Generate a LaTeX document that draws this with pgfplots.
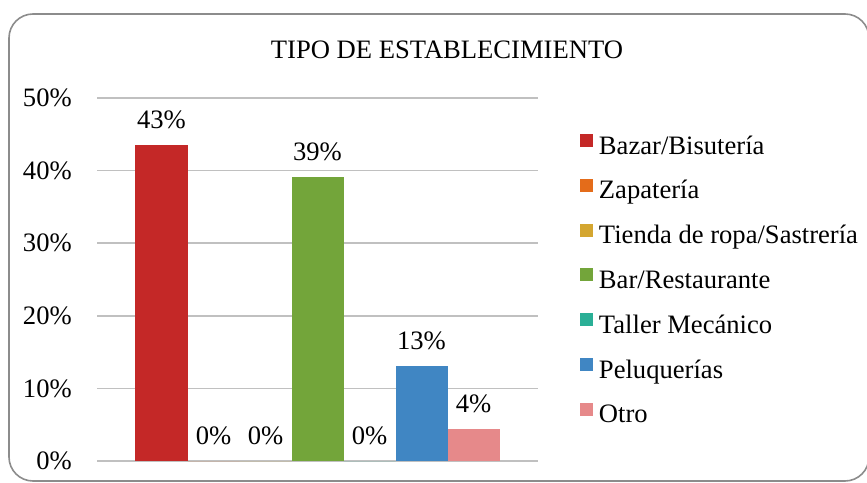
\documentclass[border=0pt]{standalone}
\usepackage{fontspec}
\setmainfont{Liberation Serif}
\usepackage{pgfplots}
\pgfplotsset{compat=1.18}
\definecolor{cBazar}{HTML}{C42827}
\definecolor{cZap}{HTML}{E46C1A}
\definecolor{cTienda}{HTML}{D4A630}
\definecolor{cBar}{HTML}{73A53A}
\definecolor{cTaller}{HTML}{2AAF96}
\definecolor{cPelu}{HTML}{4086C3}
\definecolor{cOtro}{HTML}{E6898A}
\definecolor{frameg}{HTML}{8C8C8C}
\definecolor{gridg}{HTML}{C0C0C0}
\begin{document}
\fontsize{13.3}{16}\selectfont
\begin{tikzpicture}
\useasboundingbox (0,0) rectangle (433.5pt,241pt);
\clip (0,0) rectangle (433.5pt,241pt);
\draw[frameg, line width=0.8pt, rounded corners=12pt] (4.5pt,0.5pt) rectangle (434.5pt,234pt);
\node[font=\fontsize{13.3}{16}\selectfont] at (223.5pt,216pt) {TIPO DE ESTABLECIMIENTO};
\begin{axis}[
  at={(48.5pt,10.5pt)}, anchor=south west,
  scale only axis, width=220.5pt, height=181.5pt,
  ybar=0pt, bar width=26pt,
  xmin=-1, xmax=1, ymin=0, ymax=50,
  xtick=\empty, ytick={0,10,20,30,40,50},
  yticklabel={\pgfmathprintnumber{\tick}\%},
  /pgf/number format/assume math mode=true,
  yticklabel style={font=\fontsize{13.3}{16}\selectfont, xshift=-8pt},
  axis line style={draw=none}, major tick length=0pt,
  ymajorgrids, major grid style={color=gridg, line width=0.8pt},
  nodes near coords={\pgfmathprintnumber[fixed,precision=0]{\pgfplotspointmeta}\%},
  nodes near coords style={font=\fontsize{13.3}{16}\selectfont, color=black, yshift=3.5pt},
  every axis plot/.append style={draw=none},
  legend image code/.code={\fill[#1] (0pt,0.5pt) rectangle (6.5pt,7pt);},
  legend style={at={(1.0952,0.9008)}, anchor=north west, draw=none, fill=none,
    inner sep=0pt, outer sep=0pt, row sep=9.4pt,
    nodes={inner sep=0pt, text height=9pt, text depth=3pt, font=\fontsize{13.3}{16}\selectfont},
    /tikz/every odd column/.append style={column sep=3pt}},
  legend cell align=left,
  clip=false,
]
\addplot[fill=cBazar] coordinates {(0,43.48)};
\addplot[fill=cZap] coordinates {(0,0)};
\addplot[fill=cTienda] coordinates {(0,0)};
\addplot[fill=cBar] coordinates {(0,39.13)};
\addplot[fill=cTaller] coordinates {(0,0)};
\addplot[fill=cPelu] coordinates {(0,13.04)};
\addplot[fill=cOtro] coordinates {(0,4.35)};
\legend{Bazar/Bisutería, Zapatería, Tienda de ropa/Sastrería, Bar/Restaurante, Taller Mecánico, Peluquerías, Otro}
\end{axis}
\end{tikzpicture}
\end{document}
